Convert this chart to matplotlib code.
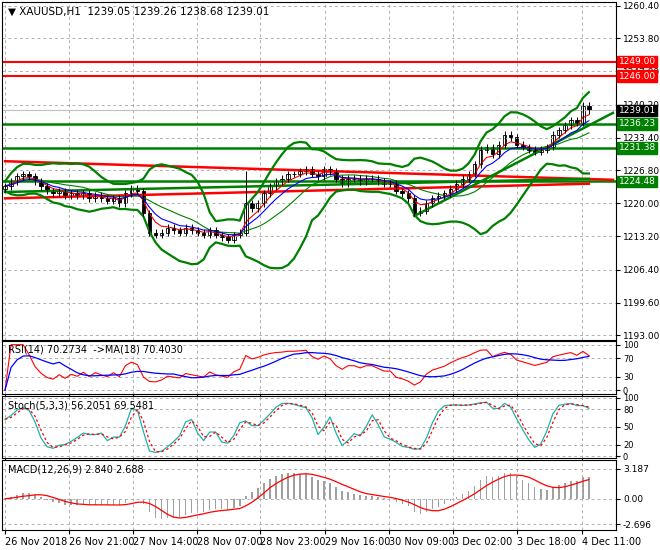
import matplotlib
matplotlib.use("Agg")
import matplotlib.pyplot as plt
import numpy as np

# 2-hour closes
closes = [1223.5, 1224.5, 1225.5, 1226, 1225.5, 1224.5, 1223.5,
          1222.5, 1222, 1222.5, 1221.5, 1222, 1221.5, 1222, 1221, 1221.5, 1221, 1220.5, 1221, 1220, 1222, 1223, 1222.5,
          1218, 1214,
          1213.5, 1214, 1215, 1214.5, 1214, 1215, 1214.5, 1214, 1213.5, 1214.5, 1213.5, 1213, 1212.5, 1213.5,
          1214, 1220,
          1219, 1220, 1222, 1223.5, 1224.5, 1225, 1226,
          1226, 1226.5, 1227, 1226, 1225.5, 1227, 1226.5, 1225, 1224,
          1225, 1225, 1224.5, 1225, 1225, 1224.5, 1224, 1224, 1222.5, 1222, 1221,
          1218, 1218.5,
          1220, 1221, 1221.5, 1222, 1223, 1224, 1225, 1226, 1228,
          1231, 1231.5, 1230, 1232, 1234, 1233.5, 1232, 1231.5,
          1231, 1230.5, 1231, 1231.5,
          1234, 1235, 1236, 1237, 1236.5, 1240, 1239]

hlines_red = [1249.00, 1246.00]
hlines_green = [1236.23, 1231.38, 1224.48]
# sloped lines: (x0, y0, x1, y1) in bar index / price
red_trend = [(0, 1228.6, 101, 1224.8), (0, 1221.0, 97, 1224.0)]
green_trend = [(0, 1222.3, 97, 1225.0), (68, 1217.4, 101, 1238.5)]

price_ticks = [1260.40, 1253.80, 1247.00, 1240.20, 1233.40, 1226.80, 1220.00, 1213.20, 1206.40, 1199.60, 1193.00]
tick_pos = [0, 10.6, 21.2, 31.9, 42.3, 53.1, 63.8, 74.4, 85.1, 95.9]
tick_labels = ['26 Nov 2018', '26 Nov 21:00', '27 Nov 14:00', '28 Nov 07:00', '28 Nov 23:00',
               '29 Nov 16:00', '30 Nov 09:00', '3 Dec 02:00', '3 Dec 18:00', '4 Dec 11:00']

c = np.array(closes, dtype=float)
n = len(c)
x = np.arange(n)
o = np.r_[c[0] - 0.5, c[:-1]]
hi = np.maximum(o, c) + 0.7
lo = np.minimum(o, c) - 0.7
hi[40] = 1226.5


def ema(a, p):
    k = 2 / (p + 1)
    out = np.empty_like(a)
    out[0] = a[0]
    for i in range(1, len(a)):
        out[i] = a[i] * k + out[i - 1] * (1 - k)
    return out


def sma(a, p):
    return np.array([a[max(0, i - p + 1):i + 1].mean() for i in range(len(a))])


mid = sma(c, 12)
sd = np.array([c[max(0, i - 11):i + 1].std() for i in range(n)])
bb_up, bb_dn = mid + 2.3 * sd + 1, mid - 2.3 * sd - 1

d = np.diff(c, prepend=c[0])
up = ema(np.where(d > 0, d, 0), 13)
dn = ema(np.where(d < 0, -d, 0), 13)
rsi = 100 * up / (up + dn + 1e-9)
rsi_ma = sma(rsi, 9)

hh = np.array([hi[max(0, i - 4):i + 1].max() for i in range(n)])
ll = np.array([lo[max(0, i - 4):i + 1].min() for i in range(n)])
k_raw = 100 * (c - ll) / (hh - ll)
st_k = sma(k_raw, 2)
st_d = sma(st_k, 2)

macd = ema(c, 6) - ema(c, 13)
sig = sma(macd, 5)

W, H = 660, 550
fig = plt.figure(figsize=(6.6, 5.5), dpi=100)


def mkax(top, bot):
    return fig.add_axes([2 / W, 1 - bot / H, 614 / W, (bot - top) / H])


ax = mkax(2, 340)
ar = mkax(341, 394)
ast = mkax(396, 458)
am = mkax(460, 530)
xl = (-0.5, 101.5)
grid = dict(color='#b0b0b0', linestyle=(0, (3, 3)), linewidth=0.7)
for a in (ax, ar, ast, am):
    a.set_xlim(*xl)
    a.set_xticks(tick_pos)
    a.tick_params(axis='x', length=3, labelbottom=False)
    a.yaxis.tick_right()
    a.tick_params(axis='y', labelsize=6.5, length=3, pad=2)
    a.grid(True, **grid)
    for s in a.spines.values():
        s.set_linewidth(0.8)
am.tick_params(axis='x', labelbottom=True, labelsize=7, pad=2)
am.set_xticklabels(tick_labels, ha='left')

# main chart
ax.set_ylim(1192, 1261.2)
ax.set_yticks(price_ticks)
ax.set_yticklabels(['%.2f' % t for t in price_ticks])
for yv in hlines_red:
    ax.axhline(yv, color='#ff0000', lw=1.5)
for yv in hlines_green:
    ax.axhline(yv, color='#008000', lw=1.8)
ax.axhline(1239.01, color='#c0c0c0', lw=0.8)
for x0, y0, x1, y1 in red_trend:
    ax.plot([x0, x1], [y0, y1], color='#ff0000', lw=1.8)
for x0, y0, x1, y1 in green_trend:
    ax.plot([x0, x1], [y0, y1], color='#008000', lw=1.8)
ax.plot(x, bb_up, color='#008000', lw=1.6)
ax.plot(x, bb_dn, color='#008000', lw=1.6)
ax.plot(x, mid, color='#008000', lw=0.8)
ax.plot(x, ema(c, 4), color='#ff0000', lw=0.8)
ax.plot(x, ema(c, 7), color='#0000ff', lw=0.8)
ax.vlines(x, lo, hi, color='black', lw=0.7)
upc = c >= o
ax.bar(x[upc], (c - o)[upc], bottom=o[upc], width=0.6, color='white', edgecolor='black', lw=0.6)
ax.bar(x[~upc], (o - c)[~upc], bottom=c[~upc], width=0.6, color='black', edgecolor='black', lw=0.6)
ax.text(0.01, 0.985, '\u25bc XAUUSD,H1  1239.05 1239.26 1238.68 1239.01', transform=ax.transAxes,
        fontsize=7.5, va='top')
tr = ax.get_yaxis_transform()
for yv, col in [(1249.00, '#ff0000'), (1246.00, '#ff0000'), (1239.01, 'black'),
                (1236.23, '#008000'), (1231.38, '#008000'), (1224.48, '#008000')]:
    ax.text(1.004, yv, '%.2f' % yv, transform=tr, fontsize=6.5, color='white', va='center', ha='left',
            bbox=dict(boxstyle='square,pad=0.15', fc=col, ec=col), clip_on=False, zorder=10)

# RSI
ar.set_ylim(-8, 108)
ar.set_yticks([0, 30, 70, 100])
ar.tick_params(axis='y', labelsize=6)
ar.plot(x, rsi, color='#ff0000', lw=0.8)
ar.plot(x, rsi_ma, color='#0000ff', lw=0.9)
ar.text(0.01, 0.93, 'RSI(14) 70.2734  ->MA(18) 70.4030', transform=ar.transAxes, fontsize=7, va='top')

# Stochastic
ast.set_ylim(-3, 103)
ast.set_yticks([0, 20, 50, 80, 100])
ast.tick_params(axis='y', labelsize=6)
ast.plot(x, st_k, color='#20b2aa', lw=0.9)
ast.plot(x, st_d, color='#ff0000', lw=0.9, ls=(0, (2, 2)))
ast.text(0.01, 0.93, 'Stoch(5,3,3) 56.2051 69.5481', transform=ast.transAxes, fontsize=7, va='top')

# MACD
am.set_ylim(-3.3, 4.1)
am.set_yticks([3.187, 0.0, -2.696])
am.set_yticklabels(['3.187', '0.00', '-2.696'])
am.bar(x, macd, width=0.25, color='#a0a0a0')
am.plot(x, sig, color='#ff0000', lw=0.9)
am.text(0.01, 0.93, 'MACD(12,26,9) 2.840 2.688', transform=am.transAxes, fontsize=7, va='top')

fig.savefig('out.png', dpi=100)
